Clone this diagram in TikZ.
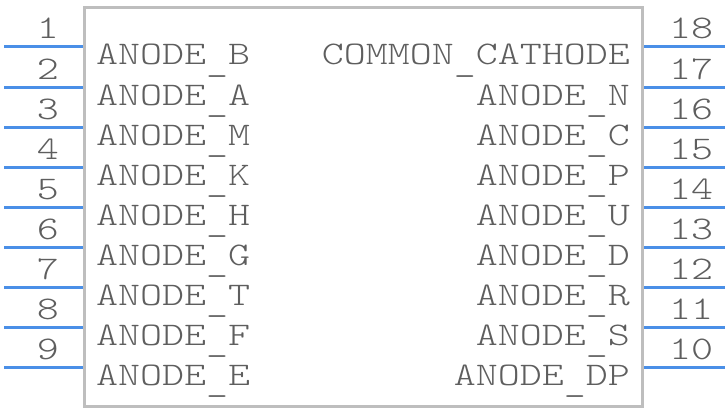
\documentclass[tikz,border=0pt]{standalone}
\usepackage{fontspec}
\newfontfamily\pinfont{lmmonolt10-regular.otf}[FakeStretch=1.27]
\usepackage{tikz}
\usepackage{xcolor}

\definecolor{pinblue}{HTML}{4A8FE7}
\definecolor{bodygray}{HTML}{BEBEBE}
\definecolor{textgray}{HTML}{5E5E5E}

% low underscore, as in the pin names
\newcommand{\lowbar}{\raisebox{-6pt}{\_}}

\begin{document}
\begin{tikzpicture}[x=1pt,y=-1pt,
    pinline/.style={draw=pinblue,line width=3pt},
    pintext/.style={inner sep=0pt,text=textgray,font=\pinfont\fontsize{33}{36}\selectfont}]
        \useasboundingbox (0,0) rectangle (728,412);

        % body
        \draw[bodygray,line width=3pt] (84,8) rectangle (642,406);

        % left pins
        \foreach \num/\lbl [count=\i from 0] in {1/B,2/A,3/M,4/K,5/H,6/G,7/T,8/F,9/E} {
            \coordinate (l\num a) at (4,47+40*\i);
            \coordinate (l\num b) at (83,47+40*\i);
            \draw[pinline] (l\num a) -- (l\num b);
            \node[pintext,anchor=base east] (ln\num) at (59,39+40*\i) {\num};
            \node[pintext,anchor=base west] (lt\num) at (96,65+40*\i) {ANODE\lowbar\lbl};
        }

        % right pins
        \foreach \num/\lbl [count=\i from 0] in {18/COMMON\lowbar CATHODE,17/ANODE\lowbar N,16/ANODE\lowbar C,15/ANODE\lowbar P,14/ANODE\lowbar U,13/ANODE\lowbar D,12/ANODE\lowbar R,11/ANODE\lowbar S,10/ANODE\lowbar DP} {
            \coordinate (r\num a) at (644,47+40*\i);
            \coordinate (r\num b) at (725,47+40*\i);
            \draw[pinline] (r\num a) -- (r\num b);
            \node[pintext,anchor=base west] (rn\num) at (669,39+40*\i) {\num};
            \node[pintext,anchor=base east] (rt\num) at (630,65+40*\i) {\lbl};
        }
    \end{tikzpicture}
\end{document}
